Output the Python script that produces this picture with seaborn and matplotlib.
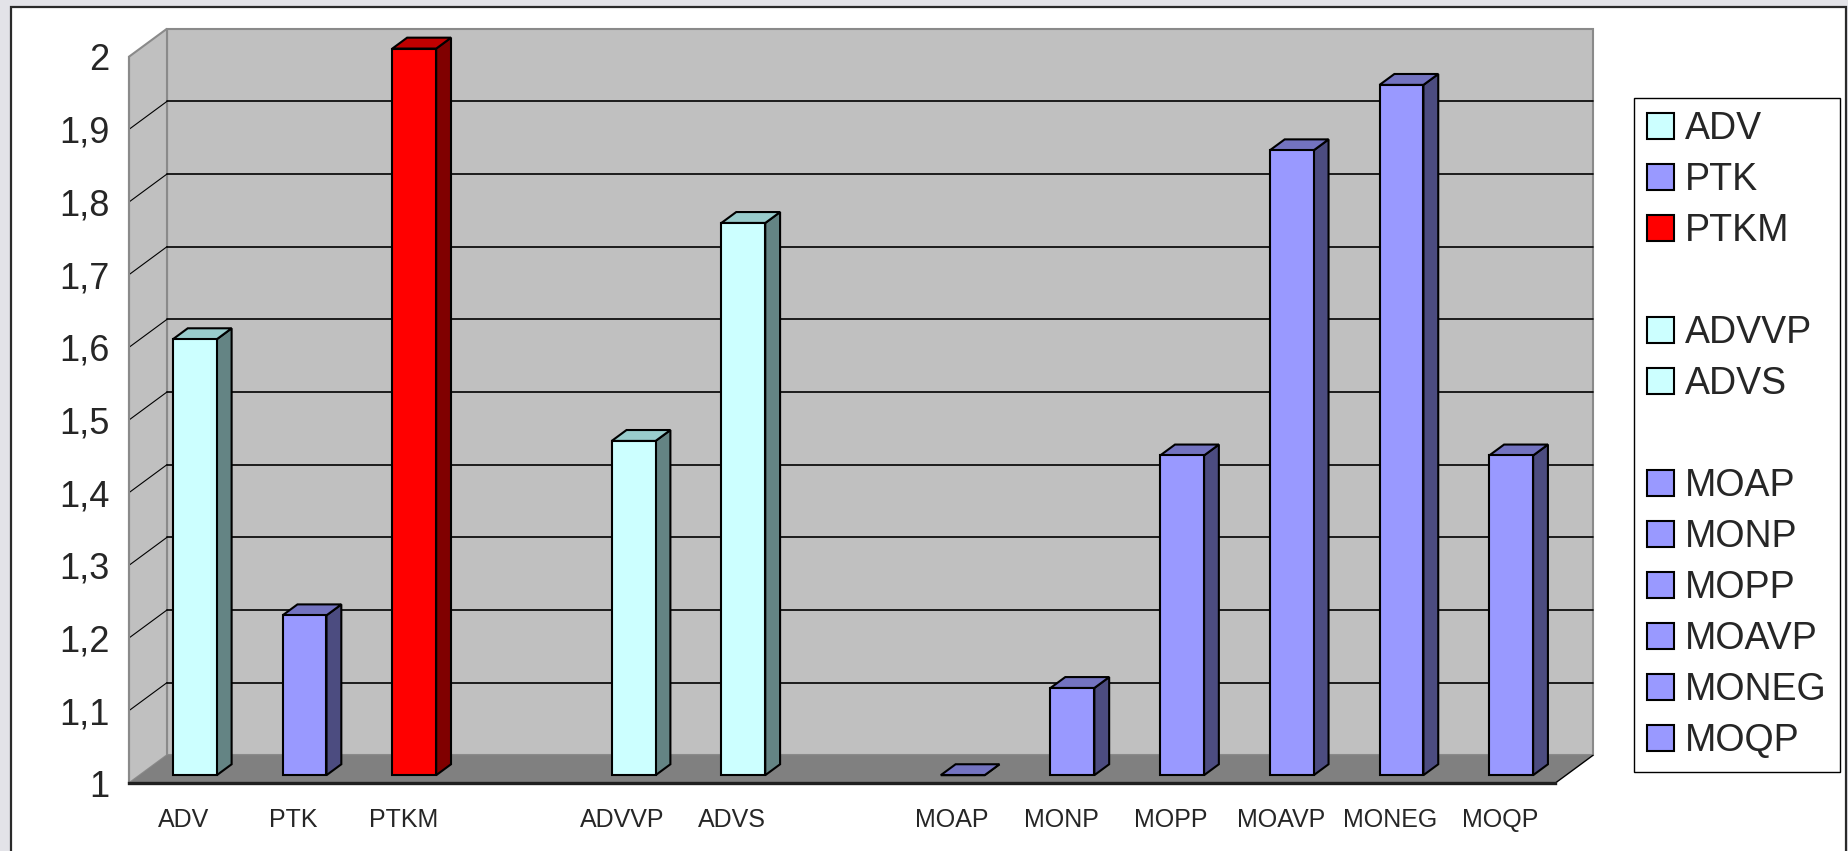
import matplotlib
matplotlib.use("Agg")
import matplotlib.pyplot as plt
from matplotlib.patches import Patch, Polygon, Rectangle
from matplotlib.transforms import IdentityTransform, ScaledTranslation
import numpy as np
import pandas as pd
import seaborn as sns

# data
categories = ["ADV", "PTK", "PTKM", "ADVVP", "ADVS",
              "MOAP", "MONP", "MOPP", "MOAVP", "MONEG", "MOQP"]
values = [1.60, 1.22, 2.00, 1.46, 1.76,
          1.00, 1.12, 1.44, 1.86, 1.95, 1.44]
families = ["cyan", "purple", "red", "cyan", "cyan",
            "purple", "purple", "purple", "purple", "purple", "purple"]
# x slots, blanks are the empty gaps between groups
slot_order = ["ADV", "PTK", "PTKM", " ", "ADVVP", "ADVS", "  ",
              "MOAP", "MONP", "MOPP", "MOAVP", "MONEG", "MOQP"]
legend_rows = ["ADV", "PTK", "PTKM", "", "ADVVP", "ADVS", "",
               "MOAP", "MONP", "MOPP", "MOAVP", "MONEG", "MOQP"]
y_ticks = [1.0, 1.1, 1.2, 1.3, 1.4, 1.5, 1.6, 1.7, 1.8, 1.9, 2.0]

face_colors = {"cyan": "#CCFFFF", "purple": "#9999FF", "red": "#FF0000"}
side_colors = {"cyan": "#648484", "purple": "#4C4C80", "red": "#800000"}
top_colors = {"cyan": "#99CCCC", "purple": "#7373C0", "red": "#C00000"}

W, H = 1849, 851
DEPTH = np.array([38.0, 28.0])   # px offset of the back wall
BAR_D0, BAR_D1 = 0.29, 0.68      # depth of bar front / back faces

sns.set_style("white")
plt.rcParams["font.family"] = ["Liberation Sans", "DejaVu Sans"]

fig = plt.figure(figsize=(W / 100, H / 100), dpi=100, facecolor="#E3E3E8")
fig.add_artist(Rectangle((11, -10), 1835, H - 7 + 10, transform=IdentityTransform(),
                         facecolor="white", edgecolor="#2A2A2A", linewidth=1.6, zorder=-10))

ax = fig.add_axes([129 / W, (H - 783.3) / H, 1426 / W, 726.6 / H])
ax.patch.set_visible(False)

df = pd.DataFrame({"category": categories, "value": values, "family": families})
sns.barplot(data=df, x="category", y="value", hue="family", order=slot_order,
            palette=face_colors, dodge=False, width=0.4, saturation=1,
            legend=False, edgecolor="black", linewidth=1.5, ax=ax)

ax.set_xlim(-0.5, len(slot_order) - 0.5)
ax.set_ylim(y_ticks[0], y_ticks[-1])
ax.set_xlabel("")
ax.set_ylabel("")


def to_px(x, y, d):
    return ax.transData.transform((x, y)) + d * DEPTH


def add_poly(pts, zorder, **kw):
    ax.add_patch(Polygon(pts, closed=True, transform=IdentityTransform(),
                         clip_on=False, zorder=zorder, **kw))


x0, x1 = ax.get_xlim()
y0, y1 = ax.get_ylim()

# walls and floor
add_poly([to_px(x0, y0, 1), to_px(x1, y0, 1), to_px(x1, y1, 1), to_px(x0, y1, 1)],
         0.5, facecolor="#C0C0C0", edgecolor="#8A8A8A", linewidth=1.5)
add_poly([to_px(x0, y0, 0), to_px(x0, y0, 1), to_px(x0, y1, 1), to_px(x0, y1, 0)],
         0.6, facecolor="#C0C0C0", edgecolor="#8A8A8A", linewidth=1.5)
add_poly([to_px(x0, y0, 0), to_px(x1, y0, 0), to_px(x1, y0, 1), to_px(x0, y0, 1)],
         0.7, facecolor="#808080", edgecolor="none")
a, b = to_px(x1, y0, 0), to_px(x1, y0, 1)
ax.plot([a[0], b[0]], [a[1], b[1]], color="black", lw=1, transform=IdentityTransform(),
        clip_on=False, zorder=0.75)

# gridlines on the back wall + diagonals on the side wall
for yv in y_ticks[1:-1]:
    p, q = to_px(x0, yv, 1), to_px(x1, yv, 1)
    ax.plot([p[0], q[0]], [p[1], q[1]], color="black", lw=1.2,
            transform=IdentityTransform(), clip_on=False, zorder=0.8)
    r = to_px(x0, yv, 0)
    ax.plot([r[0], p[0]], [r[1], p[1]], color="black", lw=0.8,
            transform=IdentityTransform(), clip_on=False, zorder=0.8)

# bars: move onto the 1-baseline, shift into depth and add 3d faces
lookup = dict(zip(categories, families))
front_shift = ScaledTranslation(BAR_D0 * DEPTH[0] / 100, BAR_D0 * DEPTH[1] / 100,
                                fig.dpi_scale_trans)
for patch in list(ax.patches):
    if not isinstance(patch, Rectangle):
        continue
    cx = patch.get_x() + patch.get_width() / 2
    name = slot_order[int(round(cx))]
    if name not in lookup:
        continue
    fam = lookup[name]
    top = patch.get_height()
    patch.set_y(y0)
    patch.set_height(top - y0)
    patch.set_transform(ax.transData + front_shift)
    patch.set_clip_on(False)
    patch.set_zorder(4)
    bx0, bx1 = patch.get_x(), patch.get_x() + patch.get_width()
    add_poly([to_px(bx1, y0, BAR_D0), to_px(bx1, top, BAR_D0),
              to_px(bx1, top, BAR_D1), to_px(bx1, y0, BAR_D1)],
             3.5, facecolor=side_colors[fam], edgecolor="black", linewidth=1.5)
    add_poly([to_px(bx0, top, BAR_D0), to_px(bx1, top, BAR_D0),
              to_px(bx1, top, BAR_D1), to_px(bx0, top, BAR_D1)],
             3.6, facecolor=top_colors[fam], edgecolor="black", linewidth=1.5)

# axes styling
for side in ["top", "right"]:
    ax.spines[side].set_visible(False)
ax.spines["left"].set_color("#8A8A8A")
ax.spines["left"].set_linewidth(1.5)
ax.spines["bottom"].set_color("#202020")
ax.spines["bottom"].set_linewidth(2.4)
ax.spines["bottom"].set_zorder(5)

ax.set_yticks(y_ticks)
ax.set_yticklabels([f"{v:g}".replace(".", ",") for v in y_ticks])
ax.tick_params(axis="y", length=8, width=1, color="#404040", pad=6, labelsize=26)

ax.set_xticks([i - 0.5 for i in range(len(slot_order) + 1)])
ax.set_xticklabels([])
ax.set_xticks(range(len(slot_order)), minor=True)
ax.set_xticklabels(slot_order, minor=True, fontsize=18)
ax.tick_params(axis="x", which="major", length=7.5, width=1, color="#404040")
ax.tick_params(axis="x", which="minor", length=0, pad=18)

# legend with blank separator rows
fam_of = dict(zip(categories, families))
handles = []
for lab in legend_rows:
    if lab:
        handles.append(Patch(facecolor=face_colors[fam_of[lab]], edgecolor="black",
                             linewidth=1.5))
    else:
        handles.append(Patch(facecolor="none", edgecolor="none"))
fig.legend(handles, legend_rows, loc="upper left",
           bbox_to_anchor=(1634 / W, 1 - 98 / H), borderaxespad=0,
           fontsize=27, frameon=True, fancybox=False, edgecolor="black",
           framealpha=1, handlelength=0.72, handleheight=0.7, handletextpad=0.3,
           labelspacing=0.40, borderpad=0.35)

fig.savefig("out.png", dpi=100, facecolor=fig.get_facecolor())
